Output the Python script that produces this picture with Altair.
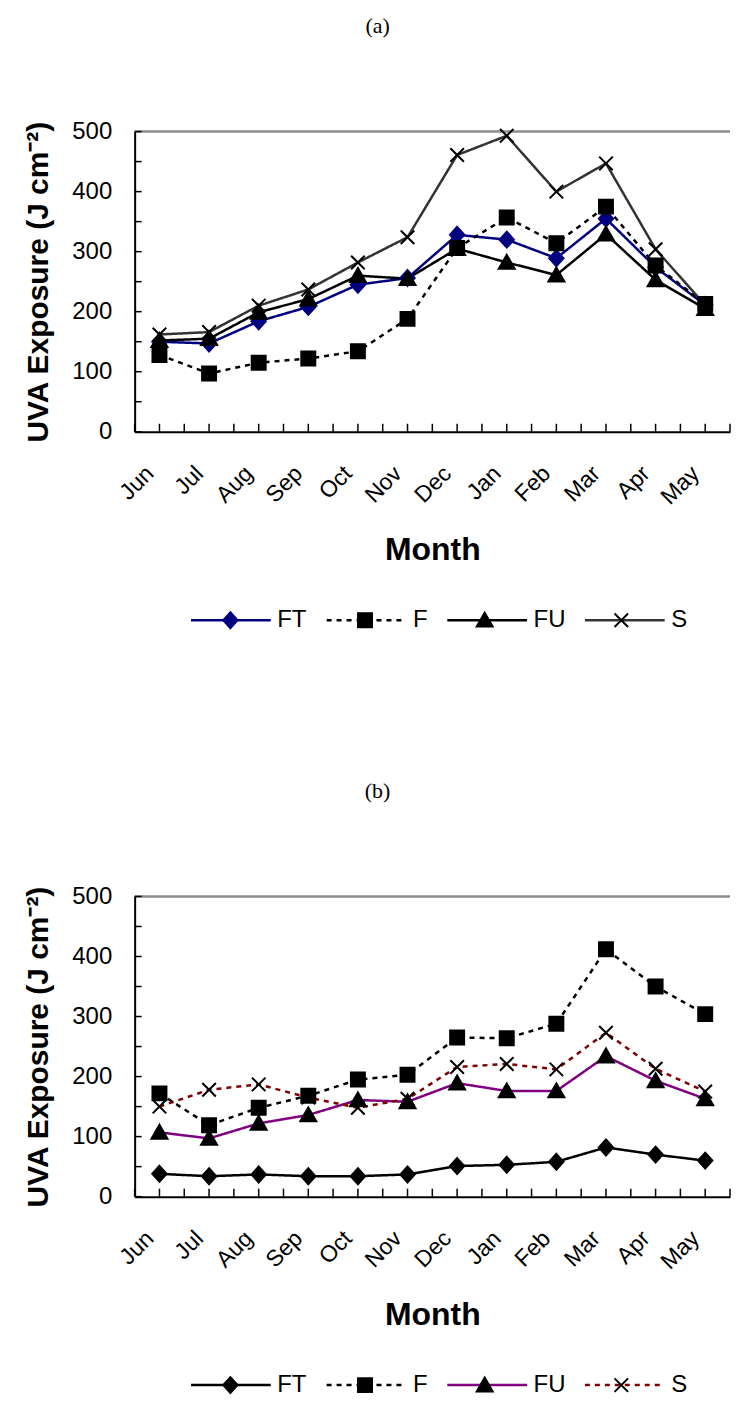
import json
import altair as alt
import pandas as pd

months = ["Jun", "Jul", "Aug", "Sep", "Oct", "Nov", "Dec", "Jan", "Feb", "Mar", "Apr", "May"]
series = ["FT", "F", "FU", "S"]

# Panel (a)
a_FT = [150, 147, 184, 208, 245, 256, 328, 320, 289, 355, 274, 211]
a_F = [128, 97, 115, 122, 134, 188, 306, 357, 314, 375, 277, 213]
a_FU = [152, 155, 199, 221, 260, 255, 305, 282, 261, 329, 253, 205]
a_S = [162, 166, 210, 237, 282, 324, 461, 493, 400, 447, 304, 211]

# Panel (b)
b_FT = [38, 34, 37, 34, 34, 37, 51, 53, 58, 82, 70, 60]
b_F = [172, 119, 148, 168, 195, 203, 265, 264, 288, 412, 350, 304]
b_FU = [107, 97, 122, 136, 161, 158, 189, 176, 176, 234, 193, 163]
b_S = [150, 178, 187, 165, 148, 163, 216, 221, 212, 273, 213, 175]

Y_MAX = 500
X_MIN, X_MAX = -0.5, 11.5

W, H = 597, 301
SYM = 6400  # symbol area: unit path coords map to +-40 px

DIAMOND = "M0,-0.2L0.18,0L0,0.2L-0.18,0Z"
SQUARE = "M-0.175,-0.175L0.175,-0.175L0.175,0.175L-0.175,0.175Z"
TRIANGLE = "M0,-0.19L0.2,0.16L-0.2,0.16Z"
XMARK = "M-0.17,-0.17L0.17,0.17M-0.17,0.17L0.17,-0.17"
shapes = [DIAMOND, SQUARE, TRIANGLE, XMARK]

FONT = "Liberation Sans"
MARK_SUFFIX = "_m"


def long_df(vals):
    rows = []
    for s, v in zip(series, vals):
        for i, (m, y) in enumerate(zip(months, v)):
            rows.append({"idx": i, "month": m, "s": s, "sm": s + MARK_SUFFIX, "value": y})
    return pd.DataFrame(rows)


def panel(label, vals, line_colors, dashes, widths, marker_colors):
    df = long_df(vals)
    leg_common = dict(
        orient="none", legendX=55, legendY=480, direction="horizontal", title=None,
        symbolSize=SYM, labelFontSize=24, labelFont=FONT, labelOffset=5,
        columnPadding=18, padding=0, labelLimit=0, labelColor="black",
        clipHeight=20,
    )
    legA = alt.Legend(symbolType="stroke", **leg_common)
    legB = alt.Legend(labelOpacity=0, symbolStrokeWidth=2,
                      labelExpr=f"replace(datum.label, '{MARK_SUFFIX}', '')", **leg_common)

    xs = alt.Scale(domain=[X_MIN, X_MAX], nice=False, zero=False)
    ys = alt.Scale(domain=[0, Y_MAX], nice=False)

    x_axis = alt.Axis(
        orient="bottom", values=list(range(len(months))),
        labelExpr=f"{json.dumps(months)}[datum.value]",
        labelAngle=-45, labelAlign="right", labelBaseline="middle",
        labelFontSize=23, labelFont=FONT, labelColor="black",
        labelPadding=38, labelOffset=-10, labelFlush=False, labelOverlap=False,
        ticks=False, grid=False, domainColor="black", domainWidth=2,
        title="Month", titleFont=FONT, titleFontSize=32, titleFontWeight="bold",
        titleColor="black", titlePadding=26, zindex=1,
    )
    y_axis = alt.Axis(
        orient="left", values=list(range(0, Y_MAX + 1, 100)),
        labelFontSize=24, labelFont=FONT, labelColor="black", labelPadding=23,
        ticks=False, grid=False, domainColor="black", domainWidth=2,
        title="UVA Exposure (J cm⁻²)", titleFont=FONT, titleFontSize=30,
        titleFontWeight="bold", titleColor="black", titlePadding=18, zindex=1,
    )

    base = alt.Chart(df)
    top = alt.Chart(pd.DataFrame({"top": [Y_MAX]})).mark_rule(
        color="#8c8c8c", strokeWidth=2.5
    ).encode(y=alt.Y("top:Q", scale=ys, axis=None))

    lines = base.mark_line().encode(
        x=alt.X("idx:Q", scale=xs, axis=x_axis),
        y=alt.Y("value:Q", scale=ys, axis=y_axis),
        color=alt.Color("s:N", scale=alt.Scale(domain=series, range=line_colors), legend=legA),
        strokeDash=alt.StrokeDash("s:N", scale=alt.Scale(domain=series, range=dashes), legend=legA),
        strokeWidth=alt.StrokeWidth("s:N", scale=alt.Scale(domain=series, range=widths), legend=legA),
    )
    mdomain = [s + MARK_SUFFIX for s in series]
    points = base.mark_point(filled=True, size=SYM, strokeWidth=2, opacity=1).encode(
        x=alt.X("idx:Q", scale=xs, axis=None),
        y=alt.Y("value:Q", scale=ys, axis=None),
        shape=alt.Shape("sm:N", scale=alt.Scale(domain=mdomain, range=shapes), legend=legB),
        fill=alt.Fill("sm:N", scale=alt.Scale(domain=mdomain, range=marker_colors), legend=legB),
        stroke=alt.Stroke("sm:N", scale=alt.Scale(domain=mdomain, range=marker_colors), legend=legB),
    )

    # inward tick marks, placed through the scales, drawn last
    ytick_vals = pd.DataFrame({"t": list(range(0, Y_MAX + 1, 50))})
    xtick_vals = pd.DataFrame({"t": [X_MIN + i * 0.5 for i in range(2 * len(months) + 1)]})
    yticks = alt.Chart(ytick_vals).mark_rule(color="black", strokeWidth=1.5).encode(
        y=alt.Y("t:Q", scale=ys, axis=None), x=alt.value(0), x2=alt.value(7)
    )
    xticks = alt.Chart(xtick_vals).mark_rule(color="black", strokeWidth=1.5).encode(
        x=alt.X("t:Q", scale=xs, axis=None), y=alt.value(H), y2=alt.value(H - 8)
    )

    return alt.layer(top, lines, points, yticks, xticks).resolve_axis(
        x="independent", y="independent"
    ).properties(
        width=W, height=H,
        title=alt.TitleParams(
            label, font="Liberation Serif", fontSize=22, fontWeight="normal",
            color="black", anchor="middle", frame="bounds", offset=82,
        ),
    )


pa = panel(
    "(a)", [a_FT, a_F, a_FU, a_S],
    ["#000080", "#000000", "#000000", "#333333"],
    [[1, 0], [5, 5], [1, 0], [1, 0]],
    [2.5, 2.5, 2.5, 1],
    ["#000080", "#000000", "#000000", "#000000"],
)
pb = panel(
    "(b)", [b_FT, b_F, b_FU, b_S],
    ["#000000", "#000000", "#800080", "#800000"],
    [[1, 0], [5, 5], [1, 0], [5, 5]],
    [2.5, 2.5, 2.5, 2.5],
    ["#000000", "#000000", "#000000", "#000000"],
)

chart = alt.vconcat(pa, pb, spacing=148).resolve_scale(
    color="independent", strokeDash="independent", strokeWidth="independent",
    shape="independent", fill="independent", stroke="independent",
).properties(
    padding={"left": 15, "top": 5, "right": 0, "bottom": 0},
    background="white",
).configure_view(stroke=None)

chart.save("out.html", embed_options={"renderer": "svg", "actions": False})
